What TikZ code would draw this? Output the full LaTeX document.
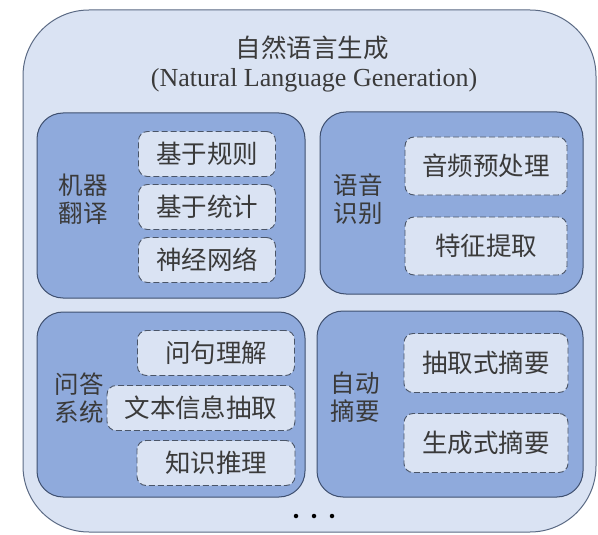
\documentclass[tikz,border=0pt]{standalone}
\usepackage{fontspec}
\setmainfont{Liberation Serif}
\newfontfamily\cjk{Noto Sans CJK SC}
\definecolor{outerfill}{HTML}{DAE3F3}
\definecolor{outerline}{HTML}{5B6A84}
\definecolor{innerfill}{HTML}{8FAADC}
\definecolor{innerline}{HTML}{3F5070}
\definecolor{dashfill}{HTML}{DAE3F3}
\definecolor{dashline}{HTML}{4A5568}
\definecolor{txt}{HTML}{3A3A3A}
\tikzset{
  outerbox/.style={draw=outerline, fill=outerfill, line width=1pt, rounded corners=66pt},
  innerbox/.style={draw=innerline, fill=innerfill, line width=1pt, rounded corners=26pt},
  dashbox/.style={draw=dashline, fill=dashfill, line width=0.9pt, dash pattern=on 6pt off 3pt, rounded corners=9pt, font=\cjk\fontsize{25.5}{28}\selectfont, text=txt, inner sep=0pt},
  grouplabel/.style={font=\cjk\fontsize{24.5}{28}\selectfont, text=txt, align=center, inner sep=0pt},
  dotmark/.style={circle, fill=black, inner sep=0pt, minimum size=4.5pt}
}
\begin{document}
\begin{tikzpicture}[x=1pt,y=-1pt]
\useasboundingbox (0,0) rectangle (598,535);
\path[outerbox] (23,10) rectangle (596,532);
\node[text=txt, font=\cjk\fontsize{25.5}{28}\selectfont] (t1) at (312,48) {自然语言生成};
\node[text=txt, font=\fontsize{26}{28}\selectfont] (t2) at (314,80) {(Natural Language Generation)};

% top-left
\path[innerbox] (37,113) rectangle (305,298);
\node[grouplabel] (mt) at (83,199) {机器\\翻译};
\node[dashbox, minimum width=137pt, minimum height=45pt] (a1) at (207,154) {基于规则};
\node[dashbox, minimum width=137pt, minimum height=45pt] (a2) at (207,207) {基于统计};
\node[dashbox, minimum width=137pt, minimum height=45pt] (a3) at (207,260) {神经网络};

% top-right
\path[innerbox] (320,112) rectangle (583,294);
\node[grouplabel] (sr) at (358,199) {语音\\识别};
\node[dashbox, minimum width=162pt, minimum height=58pt] (b1) at (486,166) {音频预处理};
\node[dashbox, minimum width=162pt, minimum height=58pt] (b2) at (486,246) {特征提取};

% bottom-left
\path[innerbox] (37,312) rectangle (305,497);
\node[grouplabel] (qa) at (79,398) {问答\\系统};
\node[dashbox, minimum width=157pt, minimum height=45pt] (c1) at (216,353) {问句理解};
\node[dashbox, minimum width=188pt, minimum height=45pt] (c2) at (201,408) {文本信息抽取};
\node[dashbox, minimum width=158pt, minimum height=45pt] (c3) at (216,463) {知识推理};

% bottom-right
\path[innerbox] (317,311) rectangle (583,497);
\node[grouplabel] (as) at (355,397) {自动\\摘要};
\node[dashbox, minimum width=164pt, minimum height=59pt] (d1) at (486,363) {抽取式摘要};
\node[dashbox, minimum width=164pt, minimum height=59pt] (d2) at (486,443) {生成式摘要};

% dots
\node[dotmark] (p1) at (296,516) {};
\node[dotmark] (p2) at (314,516) {};
\node[dotmark] (p3) at (332,516) {};
\end{tikzpicture}
\end{document}
